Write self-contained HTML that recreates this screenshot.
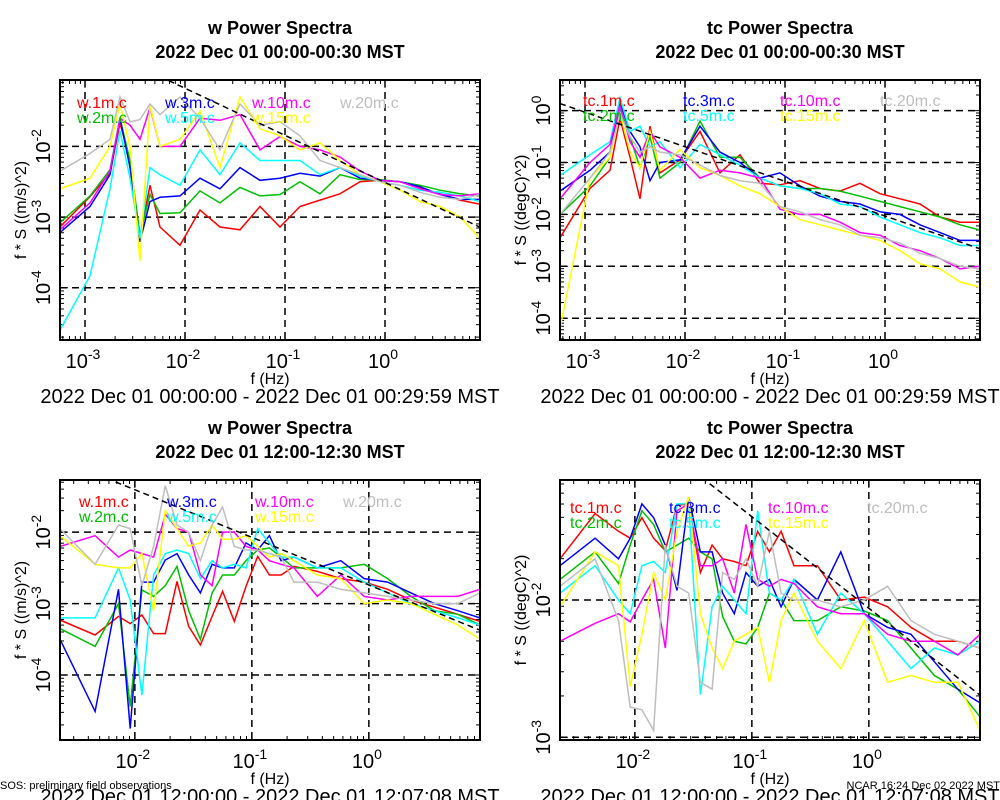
<!DOCTYPE html>
<html><head><meta charset="utf-8"><style>
html,body{margin:0;padding:0;background:#fff;}
svg{display:block;font-family:"Liberation Sans",sans-serif;}
</style></head><body>
<svg id="fig" width="1000" height="800" viewBox="0 0 1000 800" xmlns="http://www.w3.org/2000/svg"></svg>
<script>
const seriesNames = ["1m","2m","3m","5m","10m","15m","20m"];
const seriesColors = ["#ff0000","#00c000","#0000ff","#00ffff","#ff00ff","#ffff00","#bebebe"];
// log10 frequency grids
const fTop = [-3.25,-2.95,-2.75,-2.65,-2.55,-2.45,-2.35,-2.25,-2.05,-1.85,-1.65,-1.45,-1.25,-1.05,-0.85,-0.65,-0.45,-0.25,-0.05,0.15,0.35,0.55,0.75,0.95];
const fBot = [-2.64,-2.34,-2.14,-2.04,-1.94,-1.84,-1.74,-1.64,-1.54,-1.44,-1.34,-1.25,-1.15,-1.05,-0.95,-0.85,-0.75,-0.64,-0.44,-0.24,-0.04,0.16,0.36,0.56,0.76,0.95];
// log10 f*S values, top-left (w, 00:00)
const wA_1m  = [-3.14,-2.71,-2.38,-1.67,-2.2,-3.28,-2.55,-3.14,-3.4,-2.9,-3.14,-3.18,-2.85,-3.14,-2.85,-2.76,-2.67,-2.5,-2.48,-2.5,-2.59,-2.67,-2.76,-2.82];
const wA_2m  = [-3.08,-2.7,-2.33,-1.6,-2.2,-3.25,-2.68,-2.95,-2.94,-2.63,-2.8,-2.58,-2.7,-2.68,-2.5,-2.67,-2.4,-2.47,-2.47,-2.5,-2.55,-2.62,-2.67,-2.7];
const wA_3m  = [-3.22,-2.85,-2.4,-1.6,-2.3,-3.35,-2.78,-2.72,-2.7,-2.45,-2.6,-2.3,-2.48,-2.45,-2.38,-2.42,-2.3,-2.45,-2.48,-2.5,-2.57,-2.68,-2.75,-2.75];
const wA_5m  = [-4.6,-3.83,-2.6,-1.78,-2.45,-3.3,-2.3,-2.4,-2.55,-2.05,-2.4,-1.95,-2.2,-2.2,-2.2,-2.4,-2.3,-2.42,-2.5,-2.55,-2.62,-2.65,-2.7,-2.78];
const wA_10m = [-3.18,-2.8,-2.35,-1.6,-1.7,-1.9,-1.45,-2.0,-2.0,-1.6,-1.63,-1.55,-2.05,-1.86,-2.0,-2.05,-2.15,-2.35,-2.48,-2.5,-2.6,-2.68,-2.7,-2.67];
const wA_15m = [-2.6,-2.45,-2.0,-1.4,-2.0,-3.62,-1.43,-2.0,-1.9,-1.5,-2.3,-1.3,-1.75,-1.85,-2.05,-1.95,-2.2,-2.4,-2.5,-2.62,-2.78,-2.85,-3.0,-3.3];
const wA_20m = [-2.35,-2.1,-1.9,-1.3,-1.65,-1.62,-1.4,-1.55,-1.3,-1.6,-2.05,-1.4,-1.7,-1.65,-1.85,-2.2,-2.3,-2.4,-2.5,-2.55,-2.65,-2.72,-2.75,-2.68];
// top-right (tc, 00:00)
const tA_1m  = [-2.45,-1.5,-1.15,-0.15,-0.9,-1.7,-0.3,-1.2,-0.95,-0.4,-1.2,-0.85,-1.4,-1.43,-1.35,-1.5,-1.55,-1.4,-1.6,-1.7,-1.8,-2.05,-2.15,-2.15];
const tA_2m  = [-2.0,-1.45,-0.9,0.05,-0.5,-1.1,-0.5,-1.3,-1.0,-0.2,-0.9,-0.9,-1.3,-1.45,-1.5,-1.5,-1.55,-1.65,-1.75,-1.85,-1.95,-2.05,-2.2,-2.3];
const tA_3m  = [-1.55,-1.15,-0.8,0.15,-0.4,-0.7,-1.35,-1.0,-0.95,-0.3,-0.8,-1.0,-1.3,-1.2,-1.45,-1.65,-1.75,-1.8,-1.95,-2.0,-2.2,-2.35,-2.5,-2.5];
const tA_5m  = [-1.25,-0.85,-0.6,0.25,-0.4,-0.3,-0.7,-0.6,-1.1,-0.65,-0.85,-1.05,-1.3,-1.45,-1.5,-1.6,-1.8,-1.85,-2.05,-2.2,-2.35,-2.45,-2.6,-2.6];
const tA_10m = [-1.7,-1.0,-0.65,0.1,-0.6,-0.9,-0.4,-0.7,-0.9,-1.3,-1.15,-1.2,-1.3,-1.9,-2.0,-2.0,-2.15,-2.35,-2.4,-2.6,-2.7,-2.85,-3.05,-3.0];
const tA_15m = [-4.2,-1.3,-0.9,-0.05,-0.8,-1.1,-0.4,-1.15,-0.75,-1.1,-1.25,-1.45,-1.6,-1.85,-2.1,-2.2,-2.3,-2.4,-2.5,-2.7,-2.95,-3.05,-3.3,-3.4];
const tA_20m = [-2.0,-1.3,-0.8,-0.05,-0.5,-0.8,-0.7,-0.8,-0.85,-1.05,-1.25,-1.35,-1.4,-1.85,-1.95,-2.1,-2.2,-2.4,-2.45,-2.55,-2.75,-2.85,-3.0,-3.05];
// bottom-left (w, 12:00)
const wB_1m  = [-3.23,-3.44,-3.18,-3.28,-3.16,-3.42,-3.42,-2.69,-3.32,-3.58,-3.18,-2.83,-3.25,-2.76,-2.34,-2.6,-2.6,-2.48,-2.55,-2.65,-2.7,-2.8,-2.95,-3.05,-3.15,-3.25];
const wB_2m  = [-3.35,-3.6,-3.0,-4.44,-2.81,-2.9,-2.75,-2.48,-3.1,-3.5,-2.85,-2.6,-2.6,-2.4,-2.25,-2.22,-2.35,-2.5,-2.5,-2.5,-2.45,-2.65,-2.9,-3.1,-3.15,-3.3];
const wB_3m  = [-3.5,-4.51,-2.8,-4.75,-2.7,-2.7,-2.39,-2.3,-2.6,-2.85,-2.45,-2.5,-2.5,-2.15,-2.25,-2.05,-2.4,-2.35,-2.5,-2.4,-2.65,-2.7,-2.85,-3.0,-3.1,-3.2];
const wB_5m  = [-3.2,-3.2,-2.5,-2.95,-4.28,-2.6,-2.3,-2.25,-2.3,-2.65,-2.4,-2.5,-2.45,-2.5,-1.95,-2.15,-2.35,-2.35,-2.5,-2.5,-2.7,-2.85,-3.0,-3.1,-3.2,-3.3];
const wB_10m = [-2.2,-2.05,-2.35,-2.25,-2.3,-2.35,-1.75,-1.95,-2.0,-2.6,-2.75,-2.0,-2.0,-2.2,-2.25,-2.4,-2.45,-2.5,-2.9,-2.6,-2.9,-2.95,-2.9,-2.9,-2.9,-2.8];
const wB_15m = [-2.05,-2.45,-2.5,-2.5,-2.3,-3.1,-1.7,-1.95,-2.2,-2.15,-1.9,-2.1,-2.1,-2.05,-2.2,-2.35,-2.3,-2.4,-2.6,-2.65,-3.0,-2.95,-3.0,-3.15,-3.3,-3.5];
const wB_20m = [-1.95,-2.45,-1.9,-1.95,-2.75,-2.2,-1.35,-1.9,-2.0,-2.4,-1.9,-1.65,-2.2,-2.25,-2.25,-2.3,-2.35,-2.7,-2.7,-2.8,-2.85,-2.9,-2.95,-3.0,-3.0,-2.85];
// bottom-right (tc, 12:00)
const tB_1m  = [-1.7,-1.37,-1.5,-1.55,-1.4,-1.55,-1.64,-1.31,-1.3,-1.8,-1.6,-1.7,-1.72,-1.75,-1.5,-1.65,-1.5,-1.75,-1.75,-2.0,-1.98,-2.05,-2.2,-2.3,-2.3,-2.35];
const tB_2m  = [-1.85,-1.65,-1.88,-1.6,-1.35,-1.45,-1.65,-1.6,-1.55,-1.65,-1.7,-2.12,-2.3,-2.32,-2.2,-1.95,-2.0,-2.15,-2.15,-2.05,-2.08,-2.15,-2.35,-2.55,-2.65,-2.85];
const tB_3m  = [-1.75,-1.55,-1.7,-1.55,-1.3,-1.4,-1.6,-1.93,-1.25,-1.65,-1.65,-1.95,-2.1,-1.8,-1.9,-1.85,-2.05,-1.85,-2.0,-1.65,-2.1,-2.2,-2.25,-2.45,-2.65,-2.75];
const tB_5m  = [-1.95,-1.75,-2.0,-2.1,-1.75,-1.72,-1.8,-1.3,-1.3,-2.69,-2.05,-1.9,-2.0,-2.1,-1.35,-1.95,-2.0,-1.85,-2.25,-1.95,-2.1,-2.3,-2.5,-2.35,-2.4,-2.3];
const tB_10m = [-2.3,-2.17,-2.1,-2.16,-2.0,-1.85,-2.35,-1.35,-1.3,-1.75,-1.75,-1.7,-1.95,-1.45,-1.85,-1.9,-1.85,-1.88,-2.05,-2.1,-2.1,-2.25,-2.3,-2.3,-2.4,-2.25];
const tB_15m = [-2.05,-1.65,-1.75,-2.63,-2.25,-1.8,-2.0,-1.5,-1.25,-2.1,-2.35,-2.5,-2.3,-2.25,-2.2,-2.6,-2.15,-1.95,-2.3,-2.5,-2.15,-2.6,-2.55,-2.6,-2.6,-2.95];
const tB_20m = [-1.9,-1.7,-2.15,-2.78,-2.8,-2.95,-1.6,-1.9,-1.95,-2.6,-2.65,-1.8,-1.85,-1.7,-1.9,-1.5,-1.95,-2.0,-2.0,-2.05,-2.0,-1.9,-2.15,-2.25,-2.3,-2.35];
// reference -2/3 slope line intercepts (log10 at f=1 Hz)
const refIntercepts = [-2.51,-2.03,-2.74,-2.06];
const refSlope = -2/3;

const NS="http://www.w3.org/2000/svg";
const svg=document.getElementById('fig');
function mk(tag,attrs,parent){const e=document.createElementNS(NS,tag);for(const k in attrs)e.setAttribute(k,attrs[k]);(parent||svg).appendChild(e);return e;}

const panels=[
 {id:'w-0000',box:[60,80,480,340],xr:[-3.25,0.95],yr:[-4.74,-1.06],xt:[-3,-2,-1,0],yt:[-4,-3,-2],f:fTop,data:[wA_1m,wA_2m,wA_3m,wA_5m,wA_10m,wA_15m,wA_20m],pre:'w',title:'w Power Spectra',sub:'2022 Dec 01 00:00-00:30 MST',ylab:'f * S ((m/s)^2)',date:'2022 Dec 01 00:00:00 - 2022 Dec 01 00:29:59 MST',leg:[77,165,252,340],legY:108},
 {id:'tc-0000',box:[560,80,980,340],xr:[-3.25,0.95],yr:[-4.42,0.59],xt:[-3,-2,-1,0],yt:[-4,-3,-2,-1,0],f:fTop,data:[tA_1m,tA_2m,tA_3m,tA_5m,tA_10m,tA_15m,tA_20m],pre:'tc',title:'tc Power Spectra',sub:'2022 Dec 01 00:00-00:30 MST',ylab:'f * S ((degC)^2)',date:'2022 Dec 01 00:00:00 - 2022 Dec 01 00:29:59 MST',leg:[583,683,780,880],legY:106},
 {id:'w-1200',box:[60,480,480,740],xr:[-2.64,0.95],yr:[-4.91,-1.27],xt:[-2,-1,0],yt:[-4,-3,-2],f:fBot,data:[wB_1m,wB_2m,wB_3m,wB_5m,wB_10m,wB_15m,wB_20m],pre:'w',title:'w Power Spectra',sub:'2022 Dec 01 12:00-12:30 MST',ylab:'f * S ((m/s)^2)',date:'2022 Dec 01 12:00:00 - 2022 Dec 01 12:07:08 MST',leg:[79,167,255,343],legY:507},
 {id:'tc-1200',box:[560,480,980,740],xr:[-2.64,0.95],yr:[-3.02,-1.126],xt:[-2,-1,0],yt:[-3,-2],f:fBot,data:[tB_1m,tB_2m,tB_3m,tB_5m,tB_10m,tB_15m,tB_20m],pre:'tc',title:'tc Power Spectra',sub:'2022 Dec 01 12:00-12:30 MST',ylab:'f * S ((degC)^2)',date:'2022 Dec 01 12:00:00 - 2022 Dec 01 12:07:08 MST',leg:[570,669,768,867],legY:513}
];

panels.forEach((p,pi)=>{
 const [x0,y0,x1,y1]=p.box;
 const g=mk('g',{});
 
 
 const X=v=>x0+(v-p.xr[0])/(p.xr[1]-p.xr[0])*(x1-x0);
 const Y=v=>y1-(v-p.yr[0])/(p.yr[1]-p.yr[0])*(y1-y0);
 const cx=(x0+x1)/2;
 const t1=mk('text',{x:cx+10,y:y0-46,'text-anchor':'middle','font-size':18,'font-weight':'bold'},g);t1.textContent=p.title;
 
 const t2=mk('text',{x:cx+10,y:y0-22,'text-anchor':'middle','font-size':18,'font-weight':'bold'},g);t2.textContent=p.sub;
 
 const cp=mk('clipPath',{id:'c'+pi},g);mk('rect',{x:x0,y:y0,width:x1-x0,height:y1-y0},cp);
 const tk=mk('g',{stroke:'#000','stroke-width':1},g);
 
 for(let d=Math.floor(p.xr[0]);d<=Math.ceil(p.xr[1]);d++)for(let m=1;m<10;m++){const v=d+Math.log10(m);if(v<p.xr[0]||v>p.xr[1])continue;const L=m==1?8:4;const xx=X(v);mk('line',{x1:xx,y1:y1,x2:xx,y2:y1-L},tk);mk('line',{x1:xx,y1:y0,x2:xx,y2:y0+L},tk);}
 for(let d=Math.floor(p.yr[0]);d<=Math.ceil(p.yr[1]);d++)for(let m=1;m<10;m++){const v=d+Math.log10(m);if(v<p.yr[0]||v>p.yr[1])continue;const L=m==1?8:4;const yy=Y(v);mk('line',{x1:x0,y1:yy,x2:x0+L,y2:yy},tk);mk('line',{x1:x1,y1:yy,x2:x1-L,y2:yy},tk);}
 const gr=mk('g',{stroke:'#000','stroke-width':1.5,'stroke-dasharray':'7,5'},g);
 
 p.xt.forEach(v=>mk('line',{x1:X(v),y1:y0,x2:X(v),y2:y1},gr));
 p.yt.forEach(v=>mk('line',{x1:x0,y1:Y(v),x2:x1,y2:Y(v)},gr));
 const sg=mk('g',{'clip-path':'url(#c'+pi+')',fill:'none','stroke-width':1.5},g);
 p.data.forEach((arr,si)=>{
  const d=arr.map((v,i)=>(i?'L':'M')+X(p.f[i]).toFixed(1)+','+Y(v).toFixed(1)).join('');
  const path=mk('path',{d:d,stroke:seriesColors[si]},sg);
  
  
 });
 const a=refIntercepts[pi];
 const ref=mk('line',{x1:X(p.xr[0]),y1:Y(a+refSlope*p.xr[0]),x2:X(p.xr[1]),y2:Y(a+refSlope*p.xr[1]),stroke:'#000','stroke-width':1.5,'stroke-dasharray':'6,4'},sg);
 
 const order=[[0,0],[1,0],[2,1],[3,1],[4,2],[5,2],[6,3]];
 order.forEach((o,k)=>{const si=o[0];const col=o[1];const row=(si==1||si==3||si==5)?1:0;
  const lt=mk('text',{x:p.leg[col],y:p.legY+row*15,'font-size':16,fill:seriesColors[si]},g);lt.textContent=p.pre+'.'+seriesNames[si]+'.c';
  });
 mk('rect',{x:x0,y:y0,width:x1-x0,height:y1-y0,fill:'none',stroke:'#000','stroke-width':2},g);
 p.xt.forEach(v=>{const t=mk('text',{x:X(v)-2,y:y1+28,'text-anchor':'middle','font-size':20},g);
  
  t.appendChild(document.createTextNode('10'));const s=mk('tspan',{dy:-9,'font-size':14},t);s.textContent=String(v);});
 p.yt.forEach(v=>{const yy=Y(v);const t=mk('text',{x:0,y:0,'text-anchor':'middle','font-size':20,transform:`translate(${x0-10},${yy}) rotate(-90)`},g);
  
  t.appendChild(document.createTextNode('10'));const s=mk('tspan',{dy:-9,'font-size':14},t);s.textContent=String(v);});
 const yl=mk('text',{x:0,y:0,'text-anchor':'middle','font-size':16,transform:`translate(${x0-34},${(y0+y1)/2}) rotate(-90)`},g);yl.textContent=p.ylab;
 
 const xl=mk('text',{x:cx,y:y1+44,'text-anchor':'middle','font-size':16},g);xl.textContent='f (Hz)';
 
 const dt=mk('text',{x:cx,y:y1+63,'text-anchor':'middle','font-size':20},g);dt.textContent=p.date;
 
});
const f1=mk('text',{x:0,y:789,'font-size':11});f1.textContent='SOS: preliminary field observations';

const f2=mk('text',{x:1000,y:789,'font-size':11,'text-anchor':'end'});f2.textContent='NCAR 16:24 Dec 02 2022 MST';

</script>
</body></html>
